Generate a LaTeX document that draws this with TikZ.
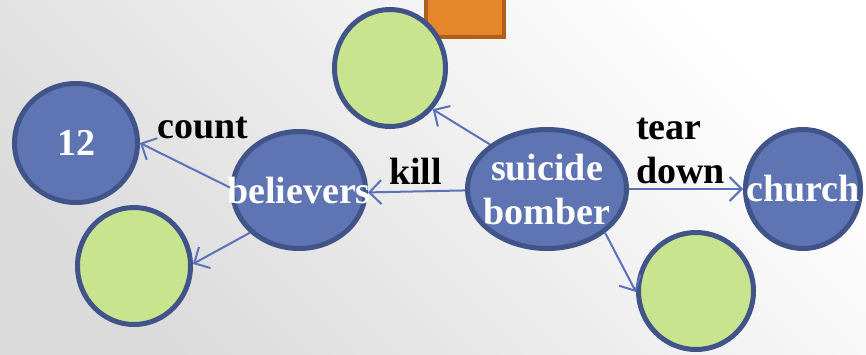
\documentclass[tikz,border=0pt]{standalone}
\usepackage{fontspec}
\setmainfont{Liberation Serif}
\usetikzlibrary{shapes.geometric}
\usetikzlibrary{arrows.meta}
\definecolor{nodeblue}{HTML}{5F74B3}
\definecolor{rimblue}{HTML}{41548A}
\definecolor{leafgreen}{HTML}{C8E48F}
\definecolor{edgeblue}{HTML}{5A72BA}
\definecolor{boxorange}{HTML}{E6862A}
\definecolor{boxrim}{HTML}{B05F1A}

\begin{document}
\begin{tikzpicture}[x=1pt,y=-1pt,
  concept/.style={ellipse, draw=rimblue, line width=5pt, fill=nodeblue, inner sep=0pt},
  blank/.style={ellipse, draw=rimblue, line width=5pt, fill=leafgreen, inner sep=0pt},
  word/.style={text=white, font=\fontsize{38}{44}\selectfont\bfseries, align=center, inner sep=0pt},
  rel/.style={font=\fontsize{38}{44}\selectfont\bfseries, inner sep=0pt, anchor=base west},
  link/.style={draw=edgeblue, line width=2pt, -{Straight Barb[length=12pt,width=24pt]}}]
% soft grey background
\shade[top color=white, bottom color=black!14, shading angle=-45] (0,0) rectangle (866,354);
\useasboundingbox (0,0) rectangle (866,354);

% orange box, partly off the top edge
\node[draw=boxrim, fill=boxorange, line width=4pt, minimum width=78pt, minimum height=50pt, inner sep=0pt] (box) at (465,12) {};

% concept nodes
\node[concept, minimum width=123pt, minimum height=119pt, label={[word]center:12}] (twelve) at (76,143) {};
\node[concept, minimum width=133pt, minimum height=117pt, label={[word]center:believers}] (believers) at (299,190) {};
\node[concept, minimum width=159pt, minimum height=119pt, label={[word]center:{suicide\\bomber}}] (bomber) at (547,189) {};
\node[concept, minimum width=115pt, minimum height=119pt, label={[word]center:church}] (church) at (803,189) {};

% empty slots
\node[blank, minimum width=111pt, minimum height=117pt] (top) at (390,68) {};
\node[blank, minimum width=113pt, minimum height=117pt] (left) at (134,266) {};
\node[blank, minimum width=115pt, minimum height=117pt] (right) at (696,291) {};

% relations
\draw[link] (believers.178) -- (twelve.0);
\draw[link] (believers.221) -- (left.2);
\draw[link] (bomber.181) -- (believers.358);
\draw[link] (bomber.142) -- (top.316);
\draw[link] (bomber.east) -- (church.west);
\draw[link] (bomber.323) -- (right.181);

% relation names
\node[rel] (count) at (157,138) {count};
\node[rel] (kill) at (389,184) {kill};
\node[rel] (tear) at (636,139) {tear};
\node[rel] (down) at (636,183) {down};
\end{tikzpicture}
\end{document}
